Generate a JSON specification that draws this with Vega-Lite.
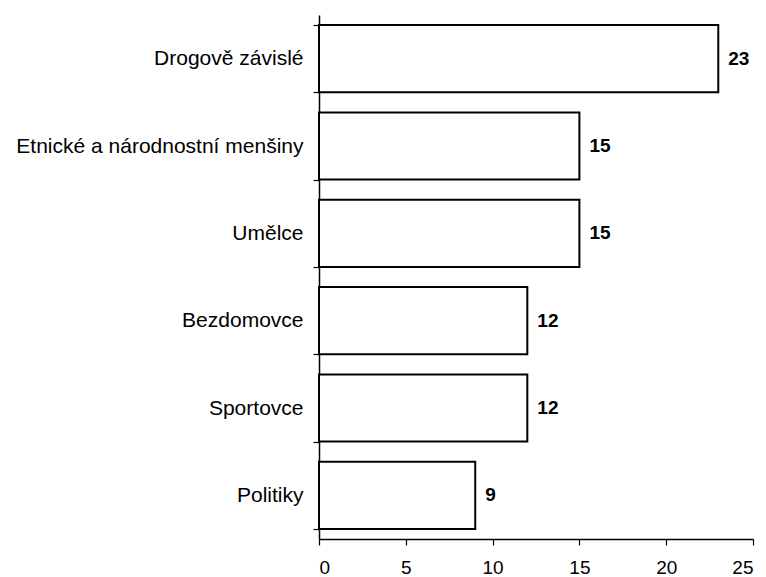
{
  "$schema": "https://vega.github.io/schema/vega-lite/v6.json",
  "width": 434,
  "height": 524,
  "autosize": {"type": "none"},
  "padding": {"left": 319, "top": 15, "right": 13, "bottom": 38},
  "background": "white",
  "config": {
    "view": {"stroke": null},
    "font": "Liberation Sans"
  },
  "data": {
    "values": [
      {"skupina": "Drogově závislé", "hodnota": 23},
      {"skupina": "Etnické a národnostní menšiny", "hodnota": 15},
      {"skupina": "Umělce", "hodnota": 15},
      {"skupina": "Bezdomovce", "hodnota": 12},
      {"skupina": "Sportovce", "hodnota": 12},
      {"skupina": "Politiky", "hodnota": 9}
    ]
  },
  "encoding": {
    "y": {
      "field": "skupina",
      "type": "nominal",
      "sort": null,
      "scale": {"paddingInner": 0.23, "paddingOuter": 0.115},
      "axis": {
        "title": null,
        "domainColor": "black",
        "domainWidth": 1.5,
        "tickColor": "black",
        "tickWidth": 1.2,
        "tickSize": 6,
        "tickBand": "extent",
        "labelFontSize": 21,
        "labelColor": "black",
        "labelPadding": 10,
        "labelLimit": 400
      }
    },
    "x": {
      "field": "hodnota",
      "type": "quantitative",
      "scale": {"domain": [0, 25], "nice": false},
      "axis": {
        "title": null,
        "values": [0, 5, 10, 15, 20, 25],
        "grid": false,
        "domainColor": "black",
        "domainWidth": 1.5,
        "tickColor": "black",
        "tickWidth": 1.2,
        "tickSize": 6,
        "labelFontSize": 19,
        "labelColor": "black",
        "labelPadding": 13
      }
    }
  },
  "layer": [
    {
      "mark": {"type": "bar", "fill": "white", "stroke": "black", "strokeWidth": 2}
    },
    {
      "mark": {"type": "text", "align": "left", "baseline": "middle", "dx": 10, "fontSize": 19, "fontWeight": "bold", "color": "black"},
      "encoding": {"text": {"field": "hodnota", "type": "quantitative"}}
    }
  ]
}
